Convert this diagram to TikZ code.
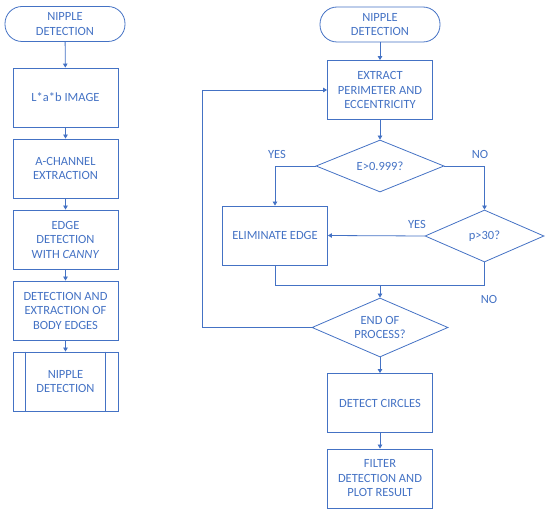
\documentclass[tikz,border=0pt]{standalone}
\usepackage{fontspec}
\setmainfont{Carlito}
\usepackage{tikz}
\usetikzlibrary{arrows.meta,shapes.geometric}

\definecolor{flowblue}{HTML}{4472C4}

\begin{document}
\begin{tikzpicture}[
    x=1pt, y=-1pt,
    base/.style     = {draw=flowblue, line width=0.8pt, text=flowblue, align=center,
                       font=\fontsize{12.5}{14.5}\selectfont, inner sep=2pt},
    terminal/.style = {base, rectangle, rounded corners=17pt, minimum width=120pt, minimum height=35pt},
    proc/.style     = {base, rectangle, minimum width=105pt, minimum height=59pt},
    subproc/.style  = {proc},
    decide/.style   = {base, diamond, inner sep=0pt, aspect=2.4},
    arrow/.style    = {-{Triangle[width=4.5pt,length=4pt]}, draw=flowblue, line width=0.8pt},
    link/.style     = {-, draw=flowblue, line width=0.8pt},
    answer/.style   = {text=flowblue, font=\fontsize{12.5}{14.5}\selectfont, inner sep=0pt},
]
\useasboundingbox (0,0) rectangle (550,516);

% --- left column: main chain ---
\node[terminal] (startL) at (65, 24)     {NIPPLE\\DETECTION};
\node[proc]     (lab)    at (65.5, 97.5) {L*a*b IMAGE};
\node[proc]     (achan)  at (65.5, 168.5){A-CHANNEL\\EXTRACTION};
\node[proc]     (canny)  at (65.5, 239.5){EDGE\\DETECTION\\WITH \textit{CANNY}};
\node[proc]     (body)   at (65.5, 310.5){DETECTION AND\\EXTRACTION OF\\BODY EDGES};
\node[subproc]  (sub)    at (65.5, 381.5){NIPPLE\\DETECTION};
\draw[link] ([xshift=13pt]sub.north west) -- ([xshift=13pt]sub.south west);
\draw[link] ([xshift=-13pt]sub.north east) -- ([xshift=-13pt]sub.south east);

\draw[arrow] (startL) -- (lab);
\draw[arrow] (lab) -- (achan);
\draw[arrow] (achan) -- (canny);
\draw[arrow] (canny) -- (body);
\draw[arrow] (body) -- (sub);

% --- right column: nipple detection subprocess ---
\node[terminal] (startR) at (380, 24.5)  {NIPPLE\\DETECTION};
\node[proc]     (extract) at (380, 90)   {EXTRACT\\PERIMETER AND\\ECCENTRICITY};
\node[decide, minimum width=128pt, minimum height=52pt] (ecc) at (380, 166) {E>0.999?};
\node[proc]     (elim)   at (275, 235.5) {ELIMINATE EDGE};
\node[decide, minimum width=119pt, minimum height=52pt] (perim) at (484.5, 236) {p>30?};
\node[decide, minimum width=136pt, minimum height=59pt] (done) at (380, 327.5) {END OF\\PROCESS?};
\node[proc]     (circles) at (380, 403)  {DETECT CIRCLES};
\node[proc]     (filter)  at (380, 478.5){FILTER\\DETECTION AND\\PLOT RESULT};

\coordinate (merge) at (380, 285);
\coordinate (back)  at (202, 327.5);

% --- answers ---
\node[answer] (yes1) at (277, 154) {YES};
\node[answer] (no1)  at (480, 154) {NO};
\node[answer] (yes2) at (417, 224) {YES};
\node[answer] (no2)  at (489, 299) {NO};

% --- connectors ---
\draw[arrow] (startR) -- (extract);
\draw[arrow] (extract) -- (ecc);
\draw[arrow] (ecc.west) -| (elim.north);
\draw[arrow] (ecc.east) -| (perim.north);
\draw[arrow] (perim.west) -- (elim.east);
\draw[link]  (elim.south) |- (merge);
\draw[link]  (perim.south) |- (merge);
\draw[arrow] (merge) -- (done.north);
\draw[arrow] (done.west) -- (back) |- (extract.west);
\draw[arrow] (done) -- (circles);
\draw[arrow] (circles) -- (filter);

\end{tikzpicture}
\end{document}
